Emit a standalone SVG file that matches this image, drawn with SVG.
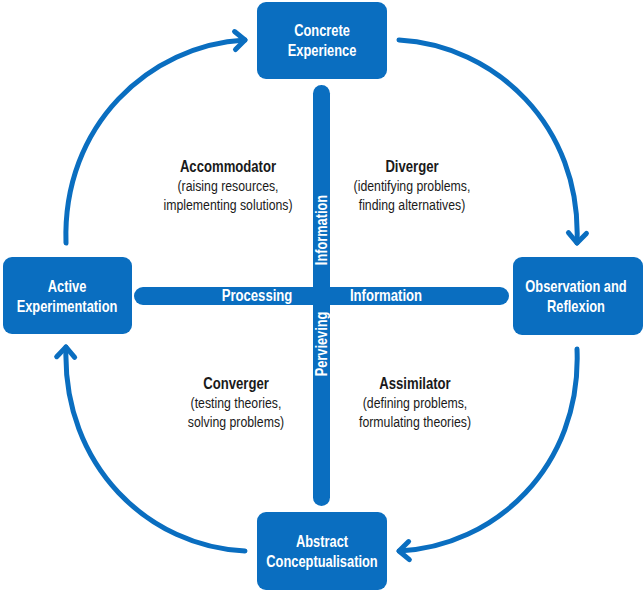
<svg xmlns="http://www.w3.org/2000/svg" width="644" height="592" viewBox="0 0 644 592">
<style>
.box{fill:#0A6EC0;}
.bar{fill:#0A6EC0;}
.bt{font-family:"Liberation Sans",Arial,sans-serif;font-weight:bold;font-size:16.5px;fill:#fff;text-anchor:middle;}
.ct{font-family:"Liberation Sans",Arial,sans-serif;font-weight:bold;font-size:16px;fill:#fff;text-anchor:middle;}
.qh{font-family:"Liberation Sans",Arial,sans-serif;font-weight:bold;font-size:16px;fill:#1a1a1a;text-anchor:middle;}
.qt{font-family:"Liberation Sans",Arial,sans-serif;font-size:15px;fill:#1a1a1a;text-anchor:middle;}
.arc{fill:none;stroke:#0A6EC0;stroke-width:5;stroke-linecap:round;}
</style>
<defs>
<marker id="ah" markerUnits="userSpaceOnUse" markerWidth="30" markerHeight="30" refX="0" refY="0" viewBox="-15 -15 30 30" orient="auto" overflow="visible">
<path d="M-10,-9 L0,0 L-10,9" fill="none" stroke="#0A6EC0" stroke-width="5" stroke-linecap="round" stroke-linejoin="round"/>
</marker>
</defs>
<g id="connectors">
<path class="arc" d="M66,243 C62,125 150,45 245,40" marker-end="url(#ah)"/>
<path class="arc" d="M399,40 C494,45 582,125 577,243" marker-end="url(#ah)"/>
<path class="arc" d="M577,349 C582,467 494,547 399,551" marker-end="url(#ah)"/>
<path class="arc" d="M245,551 C150,547 62,467 66,347" marker-end="url(#ah)"/>
</g>
<g id="cross">
<rect class="bar" x="134" y="287" width="375" height="18" rx="9"/>
<rect class="bar" x="313" y="85" width="17" height="421" rx="8.5"/>
<text class="ct" transform="translate(257,301) scale(0.82,1)">Processing</text>
<text class="ct" transform="translate(386,301) scale(0.82,1)">Information</text>
<text class="ct" transform="translate(327,230) rotate(-90) scale(0.8,1)">Information</text>
<text class="ct" transform="translate(327,344) rotate(-90) scale(0.8,1)">Pervieving</text>
</g>
<g id="concrete-experience">
<rect class="box" x="257" y="2" width="130" height="77" rx="9"/>
<text class="bt" transform="translate(322,36) scale(0.78,1)">Concrete</text>
<text class="bt" transform="translate(322,56) scale(0.78,1)">Experience</text>
</g>
<g id="active-experimentation">
<rect class="box" x="3" y="257" width="129" height="77" rx="9"/>
<text class="bt" transform="translate(67,292) scale(0.78,1)">Active</text>
<text class="bt" transform="translate(67,312) scale(0.78,1)">Experimentation</text>
</g>
<g id="observation-reflexion">
<rect class="box" x="513" y="257" width="130" height="78" rx="9"/>
<text class="bt" transform="translate(576,292) scale(0.78,1)">Observation and</text>
<text class="bt" transform="translate(576,312) scale(0.78,1)">Reflexion</text>
</g>
<g id="abstract-conceptualisation">
<rect class="box" x="257" y="512" width="130" height="78" rx="9"/>
<text class="bt" transform="translate(322,547) scale(0.78,1)">Abstract</text>
<text class="bt" transform="translate(322,567) scale(0.78,1)">Conceptualisation</text>
</g>
<g id="accommodator">
<text class="qh" transform="translate(228,172) scale(0.82,1)">Accommodator</text>
<text class="qt" transform="translate(228,191) scale(0.82,1)">(raising resources,</text>
<text class="qt" transform="translate(228,210) scale(0.82,1)">implementing solutions)</text>
</g>
<g id="diverger">
<text class="qh" transform="translate(412,172) scale(0.82,1)">Diverger</text>
<text class="qt" transform="translate(412,191) scale(0.82,1)">(identifying problems,</text>
<text class="qt" transform="translate(412,210) scale(0.82,1)">finding alternatives)</text>
</g>
<g id="converger">
<text class="qh" transform="translate(236,389) scale(0.82,1)">Converger</text>
<text class="qt" transform="translate(236,408) scale(0.82,1)">(testing theories,</text>
<text class="qt" transform="translate(236,427) scale(0.82,1)">solving problems)</text>
</g>
<g id="assimilator">
<text class="qh" transform="translate(415,389) scale(0.82,1)">Assimilator</text>
<text class="qt" transform="translate(415,408) scale(0.82,1)">(defining problems,</text>
<text class="qt" transform="translate(415,427) scale(0.82,1)">formulating theories)</text>
</g>
</svg>
